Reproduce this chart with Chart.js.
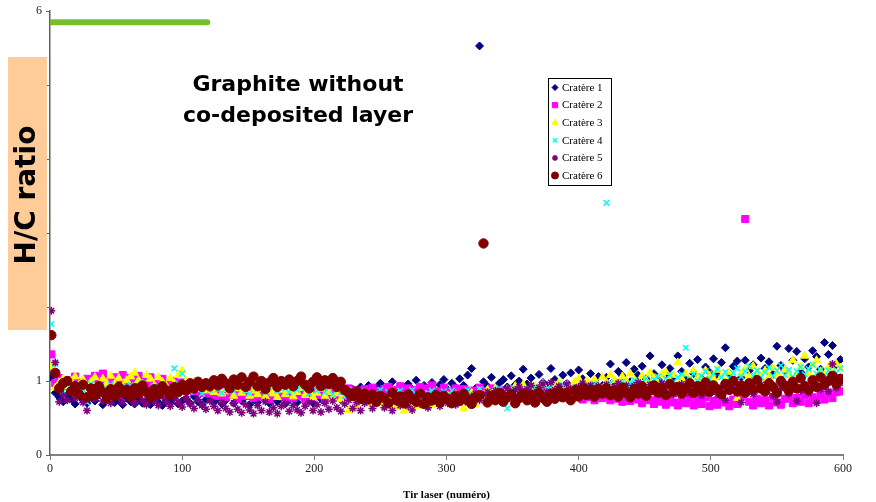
<!DOCTYPE html>
<html>
<head>
<meta charset="utf-8">
<script src="https://cdn.jsdelivr.net/npm/chart.js@4/dist/chart.umd.min.js"></script>
<style>
  html, body { margin: 0; padding: 0; background: #ffffff; }
  #wrap { width: 876px; height: 502px; position: relative; }
</style>
</head>
<body>
<div id="wrap"><canvas id="c" width="876" height="502"></canvas></div>
<script>
// Shot numbers: one reading every third laser shot
const shots = Array.from({ length: 200 }, (_, i) => 1 + 3 * i);

const crater1 = [
  1.05,0.84,0.78,0.72,0.81,0.76,0.69,0.8,0.74,0.7,0.78,0.73,0.81,0.68,0.75,0.79,0.71,0.74,0.68,0.77,
  0.72,0.69,0.76,0.7,0.73,0.68,0.75,0.71,0.67,0.74,0.7,0.77,0.69,0.73,0.76,0.7,0.79,0.72,0.68,0.75,
  0.8,0.71,0.77,0.69,0.74,0.82,0.7,0.76,0.73,0.79,0.68,0.75,0.71,0.8,0.74,0.7,0.77,0.72,0.78,0.69,
  0.75,0.79,0.71,0.83,0.74,0.77,0.7,0.8,0.76,0.73,0.81,0.78,0.84,0.75,0.86,0.8,0.89,0.83,0.92,0.86,
  0.94,0.85,0.91,0.97,0.83,0.9,0.99,0.87,0.93,0.84,0.96,0.89,1.01,0.86,0.94,0.9,0.98,0.85,0.95,1.02,
  0.88,0.97,0.91,1.03,0.94,1.08,1.17,0.9,5.53,0.99,0.93,1.05,0.89,0.97,1.02,0.92,1.07,0.95,1.0,1.16,
  0.96,1.04,0.91,1.09,0.98,0.94,1.17,1.02,0.93,1.08,0.97,1.11,0.92,1.15,1.03,0.95,1.1,0.99,1.06,0.94,
  1.05,1.23,1.0,1.13,1.07,1.25,0.99,1.16,1.08,1.2,1.03,1.34,1.1,1.02,1.22,1.08,1.17,1.05,1.34,1.13,
  1.06,1.24,1.1,1.29,1.03,1.19,1.12,1.3,1.08,1.25,1.45,1.09,1.2,1.27,1.05,1.28,1.14,1.22,1.1,1.31,
  1.17,1.26,1.09,1.47,1.21,1.14,1.44,1.28,1.4,1.12,1.3,1.19,1.41,1.33,1.16,1.52,1.36,1.48,1.22,1.29
];
const crater2 = [
  1.36,0.97,1.04,0.93,1.01,0.96,1.06,0.98,0.92,1.03,0.95,1.07,0.99,1.1,1.0,0.94,1.05,0.98,1.08,0.96,
  1.04,0.97,1.07,1.0,0.94,1.05,0.99,0.93,1.03,0.97,0.91,1.0,0.94,0.98,0.88,0.95,0.86,0.93,0.84,0.9,
  0.83,0.89,0.8,0.87,0.78,0.86,0.81,0.76,0.85,0.8,0.88,0.77,0.83,0.79,0.86,0.75,0.82,0.8,0.87,0.78,
  0.84,0.77,0.86,0.8,0.75,0.83,0.79,0.87,0.81,0.76,0.85,0.8,0.88,0.79,0.84,0.9,0.82,0.87,0.83,0.89,
  0.84,0.91,0.86,0.81,0.89,0.92,0.83,0.88,0.93,0.85,0.9,0.82,0.88,0.92,0.84,0.9,0.94,0.86,0.83,0.91,
  0.86,0.82,0.9,0.85,0.89,0.8,0.87,0.83,0.91,0.81,0.86,0.9,0.79,0.88,0.84,0.8,0.87,0.82,0.89,0.81,
  0.85,0.79,0.88,0.82,0.77,0.86,0.8,0.84,0.78,0.83,0.87,0.76,0.82,0.8,0.75,0.84,0.78,0.74,0.81,0.77,
  0.8,0.74,0.82,0.76,0.72,0.79,0.73,0.8,0.75,0.7,0.78,0.74,0.69,0.77,0.72,0.68,0.76,0.71,0.67,0.75,
  0.7,0.77,0.67,0.74,0.69,0.78,0.66,0.73,0.68,0.76,0.71,0.66,0.75,0.69,0.79,3.19,0.72,0.67,0.76,0.7,
  0.74,0.67,0.78,0.71,0.68,0.76,0.8,0.7,0.77,0.72,0.81,0.7,0.78,0.74,0.82,0.75,0.84,0.77,0.85,0.86
];
const crater3 = [
  1.2,0.91,0.98,1.03,0.93,1.0,1.06,0.95,1.02,0.9,0.99,1.05,0.94,1.03,0.97,1.07,0.96,1.04,0.92,1.01,
  1.06,1.11,1.01,0.96,1.08,1.03,0.94,1.05,0.99,0.93,1.04,0.97,1.08,1.14,1.0,0.93,0.99,0.89,0.96,0.87,
  0.92,0.85,0.9,0.83,0.89,0.86,0.8,0.9,0.84,0.88,0.8,0.87,0.82,0.89,0.79,0.86,0.83,0.78,0.88,0.82,
  0.87,0.79,0.85,0.9,0.81,0.86,0.78,0.84,0.89,0.8,0.85,0.77,0.83,0.75,0.81,0.6,0.76,0.64,0.72,0.79,
  0.74,0.69,0.8,0.72,0.67,0.78,0.71,0.65,0.76,0.6,0.79,0.7,0.66,0.77,0.71,0.74,0.67,0.79,0.72,0.76,
  0.8,0.71,0.82,0.75,0.63,0.8,0.84,0.68,0.86,0.78,0.88,0.72,0.9,0.82,0.7,0.89,0.83,0.93,0.77,0.95,
  0.87,0.8,0.93,0.86,0.96,0.84,0.78,0.94,0.98,0.88,0.96,0.83,0.99,1.03,0.9,1.0,0.94,1.02,0.92,1.05,
  0.98,1.08,1.01,0.94,1.06,1.0,1.1,1.02,0.96,1.07,1.01,1.11,1.04,0.97,1.09,1.12,1.0,1.08,1.25,1.03,
  1.1,1.02,1.14,1.05,0.99,1.14,1.07,1.03,1.15,1.06,1.0,1.12,1.04,0.77,1.1,1.16,1.06,1.2,1.12,1.04,
  1.14,1.07,1.18,1.09,1.03,1.15,1.08,1.28,1.1,1.19,1.34,1.11,1.21,1.28,1.13,1.08,1.19,1.12,1.23,1.18
];
const crater4 = [
  1.77,1.23,0.93,0.86,0.97,0.89,0.83,0.95,0.88,0.71,0.96,0.85,0.92,0.82,0.9,0.95,0.87,0.81,0.93,0.86,
  0.94,0.84,0.91,0.97,0.86,0.82,0.93,0.88,0.95,0.85,0.91,1.17,0.97,1.1,0.9,0.86,0.95,0.89,0.83,0.93,
  0.88,0.96,0.89,0.84,0.94,0.98,0.86,0.92,0.95,0.87,0.83,0.94,0.89,0.97,0.85,0.92,0.98,0.87,0.95,0.9,
  0.85,0.94,0.88,0.96,0.9,0.83,0.93,0.87,0.95,0.85,0.91,0.82,0.9,0.85,0.8,0.88,0.83,0.78,0.86,0.8,
  0.84,0.77,0.83,0.88,0.79,0.85,0.76,0.84,0.87,0.78,0.82,0.88,0.79,0.85,0.76,0.84,0.87,0.78,0.82,0.86,
  0.8,0.87,0.81,0.78,0.85,0.88,0.8,0.83,0.89,0.81,0.86,0.83,0.88,0.9,0.82,0.63,0.89,0.84,0.91,0.85,
  0.89,0.83,0.92,0.86,0.82,0.9,0.93,0.85,0.88,0.94,0.86,0.91,0.83,0.9,0.95,0.87,0.92,0.96,0.88,0.93,
  3.41,0.97,0.89,0.95,0.99,0.91,0.97,1.01,0.93,0.99,1.03,0.95,1.02,1.06,0.97,1.03,1.08,0.99,1.05,1.09,
  1.45,1.03,1.1,1.0,1.07,1.13,1.03,1.1,1.16,1.05,1.12,1.04,1.11,1.17,1.06,1.13,1.2,1.07,1.14,1.05,
  1.12,1.18,1.07,1.14,1.21,1.08,1.15,1.06,1.13,1.19,1.09,1.16,1.22,1.1,1.15,1.07,1.14,1.2,1.11,1.17
];
const crater5 = [
  1.95,1.25,0.72,0.81,0.74,0.86,0.77,0.83,0.71,0.6,0.82,0.76,0.85,0.73,0.8,0.7,0.84,0.78,0.72,0.83,
  0.76,0.7,0.82,0.74,0.68,0.8,0.73,0.67,0.79,0.72,0.66,0.78,0.71,0.65,0.76,0.69,0.63,0.75,0.67,0.62,
  0.73,0.66,0.6,0.71,0.63,0.58,0.7,0.62,0.57,0.68,0.61,0.56,0.67,0.6,0.72,0.58,0.64,0.56,0.66,0.7,
  0.59,0.67,0.61,0.57,0.66,0.71,0.6,0.68,0.58,0.7,0.62,0.73,0.64,0.59,0.69,0.74,0.63,0.71,0.6,0.7,
  0.74,0.63,0.7,0.76,0.64,0.72,0.6,0.73,0.67,0.77,0.66,0.61,0.74,0.69,0.78,0.64,0.72,0.77,0.66,0.73,
  0.7,0.78,0.68,0.76,0.8,0.71,0.79,0.83,0.74,0.81,0.85,0.77,0.87,0.8,0.84,0.9,0.81,0.88,0.92,0.83,
  0.89,0.94,0.84,0.91,0.96,0.85,0.98,0.88,0.93,0.86,0.96,0.89,0.83,0.92,0.97,0.87,0.94,0.84,0.93,0.88,
  0.95,0.86,0.92,0.97,0.87,0.94,0.84,0.93,0.98,0.88,0.83,0.95,0.87,0.92,0.97,0.85,0.93,0.82,0.9,0.96,
  0.88,0.83,0.94,0.86,0.8,0.92,0.85,0.95,0.82,0.9,0.74,0.87,0.94,0.84,0.71,0.9,0.93,0.82,0.88,0.95,
  0.85,0.91,0.8,0.72,0.9,0.94,0.83,0.91,0.73,0.87,0.95,0.84,0.92,0.7,0.89,0.96,0.86,1.23,0.91,0.97
];
const crater6 = [
  1.62,1.11,0.9,0.97,1.0,0.86,0.93,0.82,0.95,0.78,0.9,0.81,0.93,0.85,0.77,0.89,0.8,0.92,0.84,0.88,
  0.79,0.9,0.83,0.94,0.85,0.78,0.89,0.82,0.93,0.87,0.81,0.92,0.85,0.95,0.87,0.97,0.9,0.99,0.92,0.97,
  0.93,1.01,0.94,1.03,0.97,0.9,1.02,0.95,1.05,0.92,0.99,1.06,0.93,1.0,0.89,0.98,1.04,0.92,1.0,0.95,
  1.02,0.93,1.0,1.06,0.95,0.9,0.99,1.05,0.93,1.01,0.96,1.04,0.92,0.99,0.88,0.84,0.8,0.86,0.76,0.83,
  0.75,0.82,0.72,0.8,0.77,0.7,0.84,0.74,0.79,0.7,0.82,0.76,0.72,0.83,0.69,0.78,0.74,0.81,0.71,0.8,
  0.76,0.7,0.8,0.73,0.83,0.74,0.69,0.78,0.81,2.86,0.71,0.8,0.74,0.84,0.72,0.78,0.82,0.7,0.77,0.83,
  0.74,0.81,0.71,0.84,0.77,0.72,0.83,0.76,0.86,0.78,0.84,0.74,0.87,0.79,0.9,0.81,0.88,0.79,0.89,0.83,
  0.9,0.81,0.87,0.79,0.91,0.84,0.78,0.89,0.83,0.93,0.8,0.87,0.94,0.84,0.9,0.81,0.96,0.86,0.92,0.83,
  0.9,0.97,0.84,0.93,0.87,0.98,0.85,0.94,0.89,0.82,0.96,0.88,1.0,0.86,0.94,0.84,0.97,0.89,1.01,0.9,
  0.86,0.97,0.92,0.84,1.0,0.94,0.87,0.99,0.9,1.04,0.93,0.88,1.01,0.92,1.05,0.95,1.0,1.07,0.96,1.03
];

// Green reference bar along the top of the plot
const barShots = [0, 119];
const barLevel = 5.85;

const xTicks = [0, 100, 200, 300, 400, 500, 600];
const yTicks = [0, 1, 2, 3, 4, 5, 6];

const seriesNames = ['Cratère 1', 'Cratère 2', 'Cratère 3', 'Cratère 4', 'Cratère 5', 'Cratère 6'];
const seriesValues = [crater1, crater2, crater3, crater4, crater5, crater6];
const seriesStyle = [
  { color: '#000080', pointStyle: 'rectRot',  radius: 4,   border: 1 },
  { color: '#FF00FF', pointStyle: 'rect',     radius: 5,   border: 1 },
  { color: '#FFFF00', pointStyle: 'triangle', radius: 4.6, border: 1 },
  { color: '#00FFFF', pointStyle: 'crossRot', radius: 4,   border: 1.5 },
  { color: '#800080', pointStyle: 'star',     radius: 4,   border: 1.5 },
  { color: '#800000', pointStyle: 'circle',   radius: 4.7, border: 1 }
];

const datasets = seriesNames.map((name, k) => ({
  label: name,
  data: shots.map((s, i) => ({ x: s, y: seriesValues[k][i] })),
  pointStyle: seriesStyle[k].pointStyle,
  pointRadius: seriesStyle[k].radius,
  pointBackgroundColor: seriesStyle[k].color,
  pointBorderColor: seriesStyle[k].color,
  pointBorderWidth: seriesStyle[k].border,
  showLine: false,
  order: 10 - k
}));

datasets.push({
  label: 'bar',
  data: barShots.map(s => ({ x: s, y: barLevel })),
  showLine: true,
  borderColor: '#78BE2C',
  borderWidth: 6,
  borderCapStyle: 'round',
  pointRadius: 0,
  order: 0
});

const serif = "'Liberation Serif', 'Times New Roman', serif";
const comic = "'DejaVu Sans', sans-serif";

// Peach panel behind the y-axis caption (covers the middle tick labels)
const captionPanel = {
  id: 'captionPanel',
  beforeDatasetsDraw(chart) {
    const ctx = chart.ctx;
    ctx.save();
    ctx.fillStyle = '#FFCC99';
    ctx.fillRect(8, 57, 39, 273);
    ctx.translate(28, 195);
    ctx.rotate(-Math.PI / 2);
    ctx.fillStyle = '#000000';
    ctx.font = "bold 28px " + comic;
    ctx.textAlign = 'center';
    ctx.textBaseline = 'middle';
    ctx.fillText('H/C ratio', 0, 0);
    ctx.restore();
  }
};

// Caption text and boxed legend inside the plot
const annotations = {
  id: 'annotations',
  afterDraw(chart) {
    const ctx = chart.ctx;
    ctx.save();
    ctx.fillStyle = '#000000';
    ctx.font = "bold 22px " + comic;
    ctx.textAlign = 'center';
    ctx.textBaseline = 'middle';
    ctx.fillText('Graphite without', 298, 85);
    ctx.fillText('co-deposited layer', 298, 116);

    const lx = 548, ly = 78, lw = 63, lh = 107;
    ctx.fillStyle = '#FFFFFF';
    ctx.fillRect(lx, ly, lw, lh);
    ctx.strokeStyle = '#000000';
    ctx.lineWidth = 1;
    ctx.strokeRect(lx + 0.5, ly + 0.5, lw, lh);
    ctx.font = "11px " + serif;
    ctx.textAlign = 'left';
    seriesNames.forEach((name, k) => {
      const cy = ly + 9.5 + k * 17.6;
      const st = seriesStyle[k];
      ctx.fillStyle = st.color;
      ctx.strokeStyle = st.color;
      ctx.lineWidth = st.border;
      Chart.helpers.drawPoint(ctx, { pointStyle: st.pointStyle, radius: st.radius * 0.75, borderWidth: st.border }, lx + 7, cy);
      ctx.fillStyle = '#000000';
      ctx.fillText(name, lx + 14, cy + 0.5);
    });
    ctx.restore();
  }
};

new Chart(document.getElementById('c'), {
  type: 'scatter',
  data: { datasets },
  options: {
    responsive: false,
    animation: false,
    devicePixelRatio: 1,
    layout: { padding: { left: 0, right: 33, top: 8, bottom: 0 } },
    plugins: { legend: { display: false }, tooltip: { enabled: false } },
    scales: {
      x: {
        type: 'linear',
        min: 0, max: 600,
        afterBuildTicks(scale) { scale.ticks = xTicks.map(v => ({ value: v })); },
        afterFit(scale) { scale.height = 47; },
        border: { display: true, color: '#808080', width: 2 },
        grid: { display: true, drawOnChartArea: false, drawTicks: true, tickLength: 5, color: '#808080', lineWidth: 1 },
        ticks: { color: '#222222', font: { family: serif, size: 12 }, padding: 2, maxRotation: 0 },
        title: { display: true, text: 'Tir laser (numéro)', color: '#000000', font: { family: serif, size: 11, weight: 'bold' }, padding: { top: 4, bottom: 0 } }
      },
      y: {
        type: 'linear',
        min: 0, max: 6,
        afterBuildTicks(scale) { scale.ticks = yTicks.map(v => ({ value: v })); },
        afterFit(scale) { scale.width = 50; },
        border: { display: true, color: '#606060', width: 1.5 },
        grid: { display: true, drawOnChartArea: false, drawTicks: true, tickLength: 4, color: '#606060', lineWidth: 1 },
        ticks: { color: '#222222', font: { family: serif, size: 12 }, padding: 4 }
      }
    }
  },
  plugins: [captionPanel, annotations]
});
</script>
</body>
</html>
